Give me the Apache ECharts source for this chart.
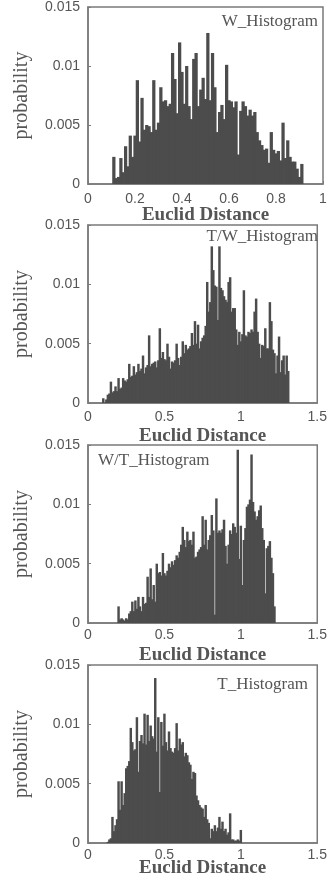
<!DOCTYPE html>
<html><head><meta charset="utf-8">
<script src="https://cdn.jsdelivr.net/npm/echarts@6/dist/echarts.min.js"></script>
<style>html,body{margin:0;padding:0;background:#fff}#c{width:330px;height:882px}</style>
</head><body><div id="c"></div>
<script>
// ---------- data ----------
const binWidth = 0.01;
const panelTitles = ['W_Histogram', 'T/W_Histogram', 'W/T_Histogram', 'T_Histogram'];
const xAxisTitle = 'Euclid Distance';
const yAxisTitle = 'probability';
// y ticks at 0, 5, 10, 15 (values are in units of 0.001)
const yTickLabels = ['0', '0.005', '0.01', '0.015'];
const xTickLabelsW = ['0', '0.2', '0.4', '0.6', '0.8', '1'];
const xTickLabelsT = ['0', '0.5', '1', '1.5'];

// histogram bin heights, probability in units of 0.001, first bin starts at *_start
const W_start = 0.11;
const W_values = [2.3,0.5,0.6,2.2,1.0,3.2,1.5,4.1,2.3,4.1,
  8.8,3.6,7.3,4.6,5.0,4.9,4.4,8.8,4.6,5.2,
  8.2,7.0,7.1,6.6,6.8,11.1,8.9,6.0,12.0,9.5,
  6.8,10.0,6.6,5.5,10.6,11.1,6.6,8.0,9.0,7.2,
  12.8,7.1,11.1,8.2,4.4,6.1,6.7,5.5,10.1,7.1,
  7.0,6.5,7.0,2.5,6.2,7.0,6.6,5.8,6.3,5.8,
  6.1,4.4,3.7,3.3,2.9,3.0,1.8,4.4,2.9,2.6,
  2.8,2.0,5.2,2.2,3.7,2.3,1.9,1.9,1.3,0.6,1.7];

const TW_start = 0.10;
const TW_values = [0.4,0,0.3,0.7,0.8,1.8,0.9,1.0,1.4,1.0,
  2.1,1.2,1.3,2.1,1.9,1.8,2.0,3.3,2.2,2.3,
  3.1,2.4,2.6,3.3,2.7,2.9,4.0,2.5,3.0,3.2,
  5.7,3.1,3.3,3.4,3.5,3.0,3.6,6.3,3.8,4.3,
  3.7,3.6,5.0,3.9,2.9,3.5,3.4,3.6,5.0,3.8,
  3.2,3.9,5.2,4.2,4.9,4.5,4.6,4.8,5.9,4.9,
  6.9,5.0,6.6,4.6,5.2,5.5,5.7,6.5,10.2,7.7,
  8.5,13.2,11.2,9.9,9.8,7.0,13.2,9.7,9.5,9.0,
  8.7,8.5,10.2,10.6,7.7,8.0,8.0,6.2,4.9,6.0,
  5.2,5.8,9.5,5.7,5.6,6.0,5.9,6.2,6.0,7.7,
  8.8,6.0,5.0,3.8,4.9,4.8,6.3,4.6,4.6,8.5,
  6.9,4.5,4.2,2.5,4.0,5.6,2.6,3.6,4.0,2.4,
  4.0,2.7];

const WT_start = 0.20;
const WT_values = [1.4,0.3,0.4,0.3,0.2,0.4,0.3,0.8,1.0,1.8,
  1.0,1.9,1.2,2.2,1.4,1.0,2.2,1.6,1.7,3.9,
  2.2,4.6,2.0,3.2,1.8,5.0,4.2,4.3,4.0,5.9,
  4.2,4.0,4.4,5.0,4.7,5.2,4.9,5.3,5.7,5.5,
  6.0,6.6,8.1,7.0,6.4,7.7,6.9,7.0,6.6,7.7,
  5.5,5.6,6.0,6.2,6.4,9.0,6.6,8.7,6.2,7.0,
  7.4,9.1,7.8,0.7,10.5,7.6,7.8,7.6,7.9,8.7,
  6.5,5.0,6.6,7.8,7.5,8.4,8.1,7.6,14.6,5.4,
  8.2,3.2,7.0,8.0,9.8,10.0,10.4,14.2,10.2,9.4,
  8.7,9.0,9.5,9.9,8.0,7.0,2.5,6.3,6.5,6.9,
  5.5,4.2,1.4];

const T_start = 0.13;
const T_values = [0.1,0.3,0.4,2.2,1.0,1.5,2.0,
  5.2,2.8,5.2,3.2,4.2,6.3,6.5,6.9,9.7,8.5,
  7.8,7.9,10.6,6.0,8.6,9.1,8.4,10.9,8.3,10.8,
  8.6,9.9,9.0,8.8,13.9,7.7,10.6,4.3,10.2,8.2,
  10.9,8.5,7.8,9.4,8.0,7.7,7.6,8.0,10.1,7.8,
  8.8,8.3,8.5,7.3,7.6,7.4,6.8,6.6,5.4,6.0,
  5.9,4.0,3.6,3.2,3.0,2.9,2.2,3.2,2.0,1.7,
  0.4,1.2,1.0,1.5,1.0,1.3,2.2,1.2,1.8,1.0,
  1.2,0.7,0.9,2.5,0.3,0.3,0.2,0.2,0.3,0.2,
  1.1];

// ---------- layout / style ----------
const panels = [
  {start: W_start,  values: W_values,  xMax: 1,   xInt: 0.2, xLabels: xTickLabelsW,
   grid: {left: 88, top: 6,   width: 235, height: 178}, labelMargin: 8, nameGap: 22,
   title: {x: 318, y: 22, align: 'right'}},
  {start: TW_start, values: TW_values, xMax: 1.5, xInt: 0.5, xLabels: xTickLabelsT,
   grid: {left: 88, top: 225, width: 235, height: 178}, labelMargin: 7, nameGap: 24,
   title: {x: 318, y: 237, align: 'right'}},
  {start: WT_start, values: WT_values, xMax: 1.5, xInt: 0.5, xLabels: xTickLabelsT,
   grid: {left: 88, top: 445, width: 233, height: 178}, labelMargin: 5, nameGap: 23,
   title: {x: 98, y: 461, align: 'left'}},
  {start: T_start,  values: T_values,  xMax: 1.5, xInt: 0.5, xLabels: xTickLabelsT,
   grid: {left: 88, top: 665, width: 233, height: 178}, labelMargin: 5, nameGap: 16,
   title: {x: 308, y: 685, align: 'right'}}
];

const axisColor = '#7a7a7a';
const textColor = '#555555';
const barColor = '#4c4c4c';

const option = {
  animation: false,
  backgroundColor: '#ffffff',
  grid: [], xAxis: [], yAxis: [], series: [], graphic: []
};

panels.forEach((p, k) => {
  option.grid.push(Object.assign({show: true, borderColor: axisColor, borderWidth: 1.5, backgroundColor: 'transparent'}, p.grid));
  const binPx = p.grid.width * binWidth / p.xMax;
  option.xAxis.push({
    type: 'value', gridIndex: k, min: 0, max: p.xMax, interval: p.xInt,
    axisLine: {show: true, lineStyle: {color: axisColor, width: 1.5}},
    axisTick: {show: true, inside: true, length: 3, lineStyle: {color: axisColor}},
    splitLine: {show: false},
    axisLabel: {
      margin: p.labelMargin, color: textColor, fontFamily: 'Liberation Sans', fontSize: 14,
      formatter: v => p.xLabels[Math.round(v / p.xInt)]
    },
    name: xAxisTitle, nameLocation: 'middle', nameGap: p.nameGap, nameMoveOverlap: false,
    nameTextStyle: {color: textColor, fontFamily: 'Liberation Serif', fontSize: 19, fontWeight: 'bold'}
  });
  option.yAxis.push({
    type: 'value', gridIndex: k, min: 0, max: 15, interval: 5,
    axisLine: {show: true, lineStyle: {color: axisColor, width: 1.5}},
    axisTick: {show: true, inside: true, length: 3, lineStyle: {color: axisColor}},
    splitLine: {show: false},
    axisLabel: {
      margin: 8, color: textColor, fontFamily: 'Liberation Sans', fontSize: 14,
      formatter: v => yTickLabels[Math.round(v / 5)]
    },
    name: yAxisTitle, nameLocation: 'middle', nameGap: 56, nameRotate: 90, nameMoveOverlap: false,
    nameTextStyle: {color: textColor, fontFamily: 'Liberation Serif', fontSize: 20}
  });
  option.series.push({
    type: 'bar', xAxisIndex: k, yAxisIndex: k,
    barWidth: binPx + 0.9,
    itemStyle: {color: barColor},
    data: p.values.map((v, i) => [+(p.start + i * binWidth).toFixed(3), v])
  });
  option.graphic.push({
    type: 'text', x: p.title.x, y: p.title.y, z: 10,
    style: {text: panelTitles[k], fill: textColor, font: '17px "Liberation Serif"',
            textAlign: p.title.align, textVerticalAlign: 'middle'}
  });
});

const chart = echarts.init(document.getElementById('c'), null, {renderer: 'canvas'});
chart.setOption(option);
</script>
</body></html>
